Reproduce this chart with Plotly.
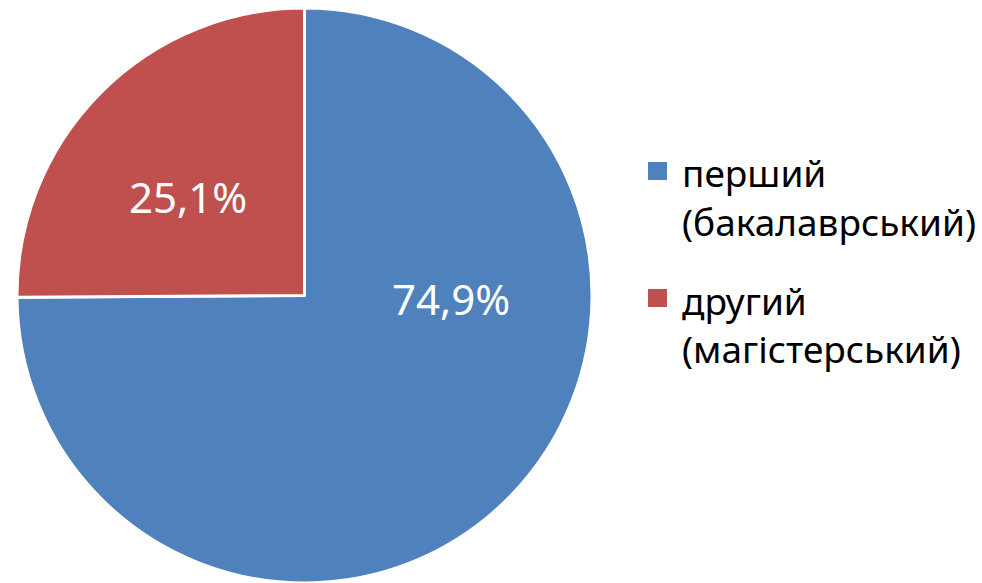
import plotly.graph_objects as go

categories = ["перший (бакалаврський)", "другий (магістерський)"]
legend_lines = [["перший", "(бакалаврський)"], ["другий", "(магістерський)"]]
values = [74.9, 25.1]
colors = ["#4F81BD", "#C0504D"]
text_labels = [f"{v:.1f}%".replace(".", ",") for v in values]

W, H = 982, 583

fig = go.Figure(go.Pie(
    labels=categories,
    values=values,
    textinfo="none",
    sort=False,
    direction="clockwise",
    rotation=0,
    marker=dict(colors=colors, line=dict(color="white", width=3)),
    domain=dict(x=[17/W, 592/W], y=[0, 575/H]),
    hoverinfo="skip",
    showlegend=False,
))

# data labels (Excel "best fit" placement)
label_pos = [(451, 299), (188, 196)]
for txt, (px, py) in zip(text_labels, label_pos):
    fig.add_annotation(x=px/W, y=1-py/H, xref="paper", yref="paper",
                       text=txt, showarrow=False, xanchor="center", yanchor="middle",
                       font=dict(family="Noto Sans", size=42, color="white"))

# custom legend
marker_top = [162, 289]
line_centers = [[172, 221], [300, 348]]
for i, col in enumerate(colors):
    t = marker_top[i]
    fig.add_shape(type="rect", xref="paper", yref="paper",
                  x0=648/W, x1=667/W, y0=1-(t+18)/H, y1=1-t/H,
                  fillcolor=col, line=dict(width=0))
    for line, cy in zip(legend_lines[i], line_centers[i]):
        fig.add_annotation(x=680/W, y=1-cy/H, xref="paper", yref="paper",
                           text=line, showarrow=False, xanchor="left", yanchor="middle",
                           font=dict(family="Noto Sans", size=37, color="black"))

fig.update_layout(
    width=W, height=H,
    margin=dict(l=0, r=0, t=0, b=0),
    paper_bgcolor="white",
    showlegend=False,
)

fig.write_html("out.html")
